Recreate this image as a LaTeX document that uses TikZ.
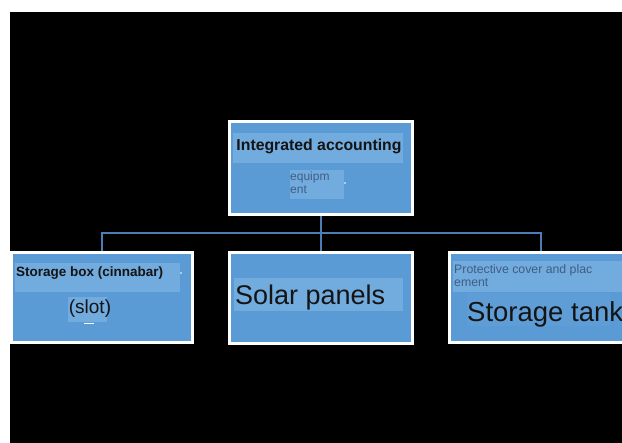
\documentclass[tikz,border=0pt]{standalone}
\usepackage{fontspec}
\setmainfont{Liberation Sans}
\definecolor{boxblue}{HTML}{5B9BD5}
\definecolor{bandblue}{HTML}{72ABDE}
\definecolor{connblue}{HTML}{4A7EB4}
\definecolor{darktext}{HTML}{141414}
\definecolor{greytext}{HTML}{3E5E84}
\tikzset{
  orgbox/.style={draw=white, line width=3pt, fill=boxblue, rectangle, inner sep=0pt},
  band/.style={fill=bandblue, rectangle, inner sep=0pt},
  conn/.style={draw=connblue, line width=1.5pt},
  lbl/.style={inner sep=0pt, text=darktext},
  small/.style={inner sep=0pt, text=greytext, align=left}
}
\begin{document}
\begin{tikzpicture}[x=1pt,y=-1pt]
\useasboundingbox (0,0) rectangle (622,443);
\clip (0,0) rectangle (622,443);
\fill[white] (0,0) rectangle (622,443);
\fill[black] (10,12) rectangle (622,443);

% boxes
\node[orgbox, minimum width=183pt, minimum height=93pt] (top) at (321,168) {};
\node[orgbox, minimum width=181pt, minimum height=90pt] (left) at (102,297.5) {};
\node[orgbox, minimum width=183pt, minimum height=91pt] (mid) at (321,298) {};
\node[orgbox, minimum width=183pt, minimum height=90pt] (right) at (541,297.5) {};

% connectors
\coordinate (bus) at (321,233);
\draw[conn] (top.south) -- (bus);
\draw[conn] (bus) -| (left.north);
\draw[conn] (bus) -- (mid.north);
\draw[conn] (bus) -| (right.north);

% top box texts
\node[band, minimum width=170pt, minimum height=30pt] (topband) at (318,148) {};
\node[lbl, font=\bfseries\fontsize{15.8}{18}\selectfont] (toptext) at (319,146) {Integrated accounting};
\node[band, minimum width=54pt, minimum height=29pt] (eqband) at (317,184.5) {};
\node[small, font=\fontsize{12}{13}\selectfont, anchor=north west] (eqtext) at (290,172) {equipm\\ent};
\fill[white] (345,183) circle (0.9pt);

% left box texts
\node[band, minimum width=165pt, minimum height=29pt] (lband) at (97.5,277.5) {};
\node[lbl, font=\bfseries\fontsize{13.5}{15}\selectfont, anchor=west] (ltext) at (16,273) {Storage box (cinnabar)};
\fill[white] (181,273) circle (0.9pt);
\node[band, minimum width=39pt, minimum height=25pt] (slotband) at (87.5,309.5) {};
\node[lbl, font=\fontsize{19}{21}\selectfont] (slottext) at (90,309) {(slot)};
\draw[white, line width=1pt] (84,324) -- (94,324);

% middle box text
\node[band, minimum width=169pt, minimum height=33pt] (sband) at (318.5,294.5) {};
\node[lbl, font=\fontsize{27}{30}\selectfont, anchor=base west] (stext) at (235,305) {Solar panels};

% right box texts
\node[band, minimum width=175pt, minimum height=31pt] (pband) at (540.5,276.5) {};
\node[small, font=\fontsize{12.3}{13}\selectfont, anchor=north west] (ptext) at (454,264) {Protective cover and plac\\ement};
\node[band, fill=boxblue!85!bandblue, minimum width=143pt, minimum height=33pt] (tband) at (538.5,309.5) {};
\node[lbl, font=\fontsize{27.5}{30}\selectfont, anchor=base west] (ttext) at (467,322) {Storage tank};
\end{tikzpicture}
\end{document}
